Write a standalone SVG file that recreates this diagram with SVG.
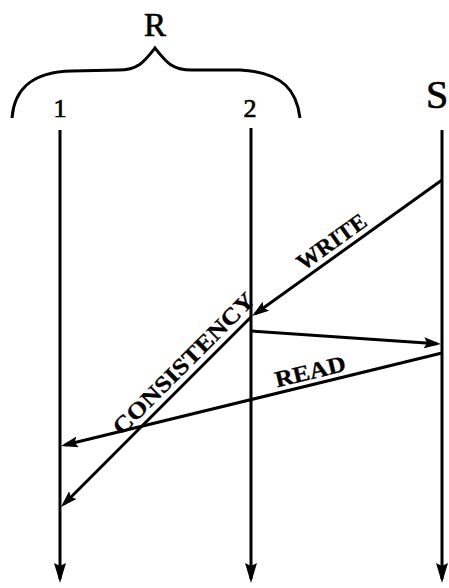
<svg xmlns="http://www.w3.org/2000/svg" width="449" height="588" viewBox="0 0 449 588">
<style>
.ln{stroke:#000;stroke-width:3;fill:none}
.lbl{font-family:"Liberation Serif","Times New Roman",serif;fill:#000;stroke:#000;stroke-width:0.7}
.big{font-size:33px}
.num{font-size:26px}
.msg{font-size:23px;font-weight:bold;stroke-width:0.3}
</style>
<defs>
<marker id="ahv" viewBox="0 0 20 12" refX="16" refY="6" markerWidth="20" markerHeight="12" markerUnits="userSpaceOnUse" orient="auto">
<path d="M0,0 L20,6 L0,12 L3,6 Z" fill="#000"/>
</marker>
<marker id="ahd" viewBox="0 0 17 11" refX="13" refY="5.5" markerWidth="17" markerHeight="11" markerUnits="userSpaceOnUse" orient="auto">
<path d="M0,0 L17,5.5 L0,11 L3,5.5 Z" fill="#000"/>
</marker>
</defs>
<rect width="449" height="588" fill="#fff"/>
<g id="group-R">
<path class="ln" d="M12,118 C14,92 28,72 72,71 L118,70 C138,70 144,62 155,48 C166,62 172,70 192,70 L240,70 C284,72 297,92 300,118"/>
<text class="lbl big" x="155" y="36" text-anchor="middle">R</text>
</g>
<g id="node-1">
<text class="lbl num" x="60" y="117" text-anchor="middle">1</text>
</g>
<g id="node-2">
<text class="lbl num" x="250" y="117" text-anchor="middle">2</text>
</g>
<g id="node-S">
<text class="lbl" font-size="40" x="426" y="108">S</text>
</g>
<g id="connectors">
<line class="ln" x1="60" y1="130" x2="60" y2="579" marker-end="url(#ahv)"/>
<line class="ln" x1="251" y1="128" x2="251" y2="579" marker-end="url(#ahv)"/>
<line class="ln" x1="442" y1="130" x2="442" y2="579" marker-end="url(#ahv)"/>
<line class="ln" x1="442" y1="180" x2="255.3" y2="313.7" marker-end="url(#ahd)"/>
<line class="ln" x1="251" y1="331" x2="437" y2="343.7" marker-end="url(#ahd)"/>
<line class="ln" x1="442" y1="353" x2="64.9" y2="445" marker-end="url(#ahd)"/>
<line class="ln" x1="251" y1="317" x2="63.8" y2="504.2" marker-end="url(#ahd)"/>
<text class="lbl msg" transform="translate(336,248) rotate(-35.6)" text-anchor="middle" textLength="80" lengthAdjust="spacingAndGlyphs">WRITE</text>
<text class="lbl msg" transform="translate(189,369) rotate(-45)" text-anchor="middle" textLength="190" lengthAdjust="spacingAndGlyphs">CONSISTENCY</text>
<text class="lbl msg" transform="translate(312,379) rotate(-13.75)" text-anchor="middle" textLength="72" lengthAdjust="spacingAndGlyphs">READ</text>
</g>
</svg>
